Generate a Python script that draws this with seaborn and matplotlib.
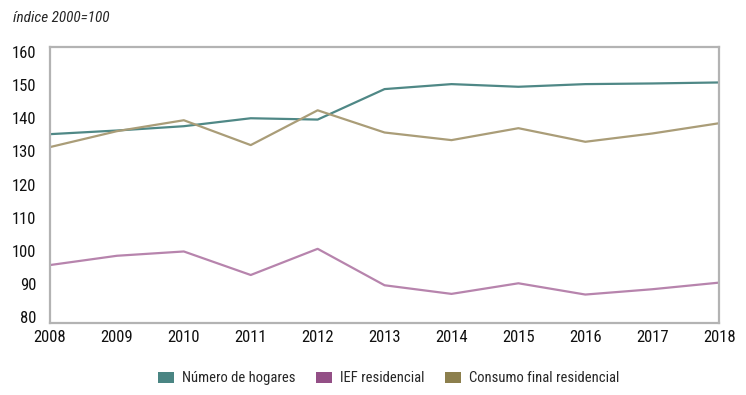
import pandas as pd
import numpy as np
import matplotlib.pyplot as plt
import seaborn as sns
from matplotlib.patches import Patch
from matplotlib import font_manager

years = [2008, 2009, 2010, 2011, 2012, 2013, 2014, 2015, 2016, 2017, 2018]
hogares = [135.2, 136.3, 137.6, 140.0, 139.6, 148.8, 150.3, 149.5, 150.3, 150.5, 150.8]
ief = [95.7, 98.5, 99.8, 92.7, 100.6, 89.6, 87.0, 90.2, 86.8, 88.4, 90.4]
consumo = [131.3, 136.1, 139.4, 131.9, 142.4, 135.7, 133.4, 137.0, 132.9, 135.4, 138.5]

series = ['Número de hogares', 'IEF residencial', 'Consumo final residencial']
line_colors = ['#4f8886', '#b784ad', '#aa9d78']
legend_colors = ['#4a8583', '#934f86', '#8c7f4d']
yticks = [80, 90, 100, 110, 120, 130, 140, 150, 160]

df = pd.DataFrame({'year': years, series[0]: hogares, series[1]: ief, series[2]: consumo})
long = df.melt(id_vars='year', var_name='serie', value_name='valor')

sns.set_style('white')
names = {f.name for f in font_manager.fontManager.ttflist}
fam = 'Roboto Condensed' if 'Roboto Condensed' in names else 'Roboto'
plt.rcParams['font.family'] = [fam, 'DejaVu Sans']

fig = plt.figure(figsize=(7.46, 3.95), dpi=100)
ax = fig.add_axes([0.067, 0.183, 0.897, 0.698])
sns.lineplot(data=long, x='year', y='valor', hue='serie', hue_order=series,
             palette=line_colors, linewidth=1.6, ax=ax, legend=False)

ax.set_xlim(2008, 2018)
ax.set_ylim(78.3, 161.5)
ax.set_xticks(years)
ax.set_xticklabels([str(y) for y in years], fontsize=12, color='#111111')
ax.set_yticks(yticks)
ax.set_yticklabels([str(t) for t in yticks], fontsize=12, color='#111111')
ax.tick_params(length=0, pad=5)
ax.tick_params(axis='y', pad=10)
ax.set_xlabel('')
ax.set_ylabel('')
for sp in ax.spines.values():
    sp.set_color('#b3b3b3')
    sp.set_linewidth(1.6)

fig.text(0.018, 0.955, 'índice 2000=100', fontsize=11, style='italic', ha='left', va='center')

handles = [Patch(facecolor=c, edgecolor='none') for c in legend_colors]
fig.legend(handles, series, loc='center', bbox_to_anchor=(0.521, 0.042), ncol=3,
           frameon=False, fontsize=10.5, handlelength=1.1, handleheight=0.75,
           columnspacing=1.4, handletextpad=0.55)

fig.savefig('out.png', dpi=100)
